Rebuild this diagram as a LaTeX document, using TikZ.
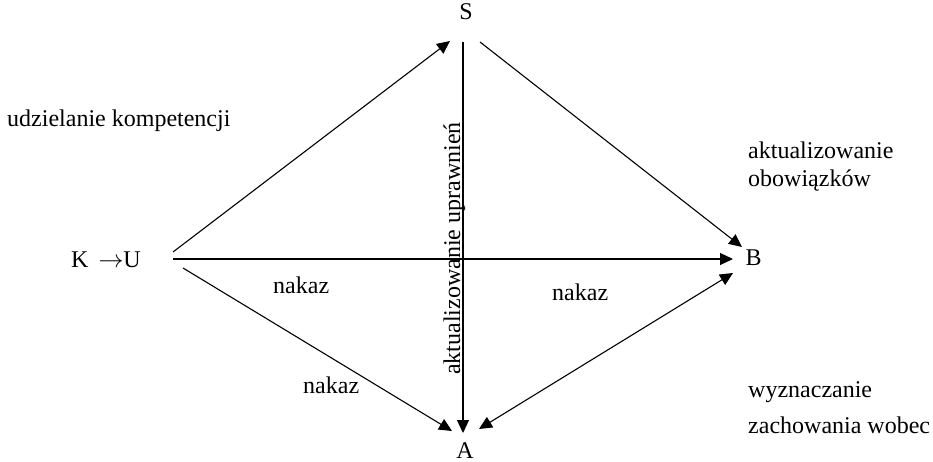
\documentclass[tikz,border=0pt]{standalone}
\usepackage{fontspec}
\setmainfont{Liberation Serif}
\usetikzlibrary{arrows.meta}
\begin{document}
\begin{tikzpicture}[x=1pt,y=-1pt,
  lbl/.style={inner sep=0pt,font=\fontsize{24}{28}\selectfont},
  conn/.style={line width=1.1pt,-{Triangle[length=13pt,width=12pt]}},
  conn2/.style={line width=1.1pt,{Triangle[length=13pt,width=12pt]}-{Triangle[length=13pt,width=12pt]}}]
\useasboundingbox (0,0) rectangle (933,462);
% main labels
\node[lbl,anchor=base] (S) at (466,20) {S};
\node[lbl,anchor=base] (A) at (465,458) {A};
\node[lbl,anchor=base] (B) at (753.5,265) {B};
\node[lbl,anchor=base] (KU) at (106,267) {K \,$\rightarrow$U};
% connector ends
\coordinate (ku1) at (173,252);
\coordinate (ku2) at (173,259);
\coordinate (ku3) at (183,268);
\coordinate (s1) at (450,41);
\coordinate (s2) at (463,42);
\coordinate (s3) at (480,42);
\coordinate (b1) at (742,247);
\coordinate (b2) at (733,259);
\coordinate (b3) at (733,273);
\coordinate (a1) at (452,431);
\coordinate (a2) at (463,433);
\coordinate (a3) at (479,429);
% connectors
\draw[conn] (ku1) -- (s1);
\draw[conn] (s3) -- (b1);
\draw[conn] (ku2) -- (b2);
\draw[conn] (ku3) -- (a1);
\draw[conn] (s2) -- (a2);
\draw[conn2] (b3) -- (a3);
% side texts
\node[lbl,anchor=base west] (t1) at (7,127) {udzielanie kompetencji};
\node[lbl,anchor=base west] (t2) at (748,159) {aktualizowanie};
\node[lbl,anchor=base west] (t3) at (748,187) {obowiązków};
\node[lbl,anchor=base west] (t4) at (748,397) {wyznaczanie};
\node[lbl,anchor=base west] (t5) at (748,433) {zachowania wobec};
\node[lbl,anchor=base west] (n1) at (273,293) {nakaz};
\node[lbl,anchor=base west] (n2) at (552,300) {nakaz};
\node[lbl,anchor=base west] (n3) at (303,393) {nakaz};
\node[lbl,anchor=base west,rotate=90] (v) at (460,375) {aktualizowanie uprawnień};
\end{tikzpicture}
\end{document}
